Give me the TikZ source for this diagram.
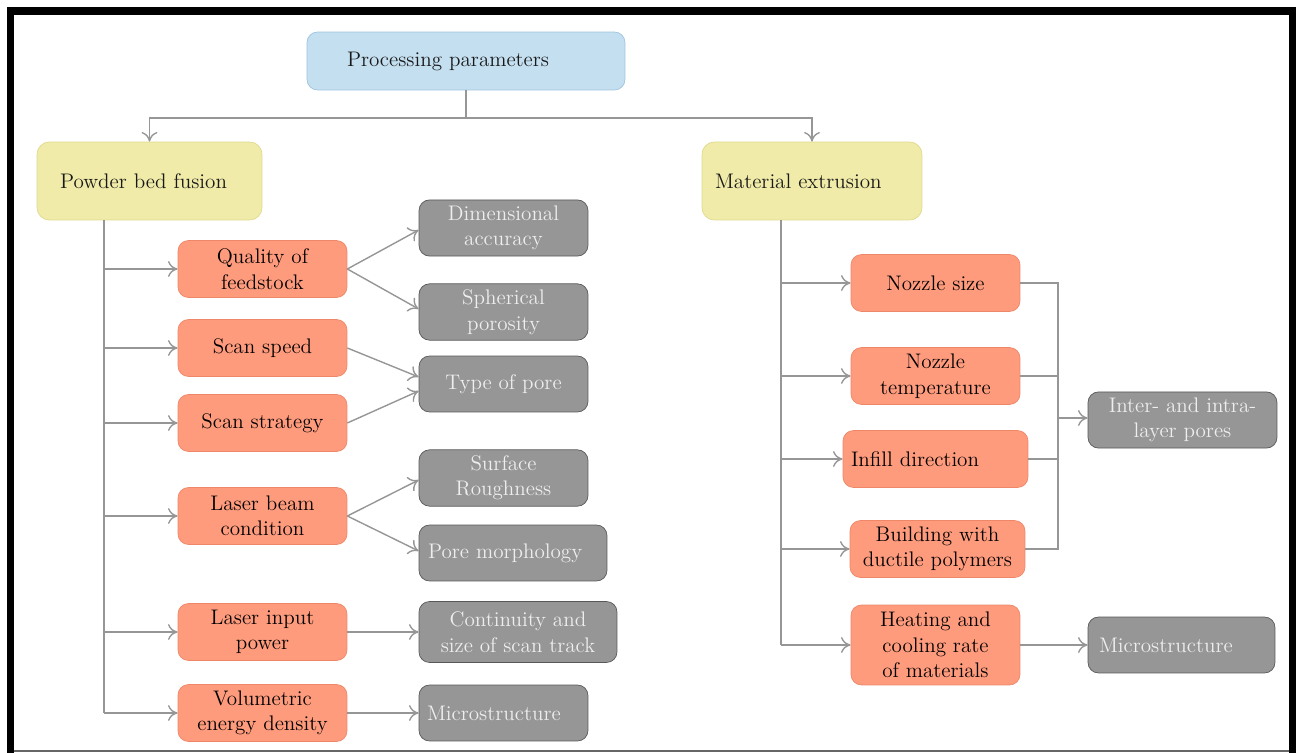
\documentclass[tikz,border=0pt]{standalone}
\usepackage{tikz}
\usetikzlibrary{arrows.meta, positioning, calc}
\definecolor{rootfill}{RGB}{196,223,240}
\definecolor{rootline}{RGB}{158,196,222}
\definecolor{methfill}{RGB}{240,235,168}
\definecolor{methline}{RGB}{224,218,140}
\definecolor{paramfill}{RGB}{255,155,125}
\definecolor{paramline}{RGB}{238,134,104}
\definecolor{efffill}{RGB}{150,150,150}
\definecolor{effline}{RGB}{88,88,88}
\definecolor{efftext}{RGB}{238,238,238}
\definecolor{linkgray}{RGB}{150,150,150}

\begin{document}
\begin{tikzpicture}[
  x=0.02cm, y=-0.02cm,
  font=\fontsize{12}{14.5}\selectfont,
  rootbox/.style={draw=rootline, fill=rootfill, rounded corners=6pt,
                  minimum height=1.16cm, text=black!90, align=left},
  methbox/.style={draw=methline, fill=methfill, rounded corners=7pt,
                  minimum height=1.56cm, text=black!90, align=left},
  parambox/.style={draw=paramline, fill=paramfill, rounded corners=6pt,
                   minimum width=3.38cm, minimum height=1.14cm,
                   inner xsep=2pt, align=center, text=black},
  effectbox/.style={draw=effline, fill=efffill, rounded corners=6pt,
                    minimum width=3.38cm, minimum height=1.12cm,
                    inner xsep=2pt, align=center, text=efftext},
  link/.style={draw=linkgray, line width=0.8pt},
  arrow/.style={link, -{To[length=5.5pt,width=9pt]}},
]
\useasboundingbox (0,0) rectangle (1296,753);

%% Frame
\fill[black] (7,7) rectangle (1296,15);
\fill[black] (7,7) rectangle (14,753);
\fill[black] (1289,7) rectangle (1296,753);
\draw[black!60, line width=0.6pt] (14,751) -- (1289,751);

%% Top levels
\node[rootbox, text width=4.76cm, inner xsep=0.8cm] (root) at (466,61) {Processing parameters};
\node[methbox, text width=3.58cm, inner xsep=0.46cm] (pbf) at (149.5,181) {Powder bed fusion};
\node[methbox, text width=3.88cm, inner xsep=0.26cm] (mex) at (812,181) {Material extrusion};

%% Powder bed fusion parameters
\node[parambox] (quality)  at (262.5,269) {Quality of\\feedstock};
\node[parambox] (speed)    at (262.5,348) {Scan speed};
\node[parambox] (strategy) at (262.5,423) {Scan strategy};
\node[parambox] (beam)     at (262.5,516) {Laser beam\\condition};
\node[parambox] (power)    at (262.5,632) {Laser input\\power};
\node[parambox] (energy)   at (262.5,713) {Volumetric\\energy density};

%% Powder bed fusion effects
\node[effectbox] (dimacc)    at (503.5,228) {Dimensional\\accuracy};
\node[effectbox] (sphpor)    at (503.5,312) {Spherical\\porosity};
\node[effectbox] (poretype)  at (503.5,384) {Type of pore};
\node[effectbox] (rough)     at (503.5,478) {Surface\\Roughness};
\node[effectbox, text width=3.4cm, inner xsep=0.18cm, align=left] (poremorph) at (513,553) {Pore morphology};
\node[effectbox, minimum width=3.96cm, minimum height=1.22cm] (track) at (518,632) {Continuity and\\size of scan track};
\node[effectbox, text width=3.06cm, inner xsep=0.16cm, align=left] (micropbf) at (503.5,713) {Microstructure};

%% Material extrusion parameters
\node[parambox] (nozsize) at (935.5,283) {Nozzle size};
\node[parambox] (noztemp) at (935.5,376) {Nozzle\\temperature};
\node[parambox, text width=3.38cm, inner xsep=0.16cm, align=left] (infill) at (935.5,459) {Infill direction};
\node[parambox, minimum width=3.5cm] (ductile) at (937.5,549) {Building with\\ductile polymers};
\node[parambox, minimum height=1.6cm] (heatcool) at (935.5,645) {Heating and\\cooling rate\\of materials};

%% Material extrusion effects
\node[effectbox, minimum width=3.78cm] (layerpores) at (1182.5,420) {Inter- and intra-\\layer pores};
\node[effectbox, text width=3.3cm, inner xsep=0.22cm, align=left] (micromex) at (1181.5,645) {Microstructure};

%% Split from the root
\coordinate (hub) at (466,118);
\draw[link] (root) -- (hub);
\draw[arrow] (hub) -| (pbf);
\draw[arrow] (hub) -| (mex);

%% Powder bed fusion trunk
\coordinate (pbftrunk) at (104,220);
\draw[link] (pbftrunk) -- (pbftrunk |- energy);
\foreach \p in {quality, speed, strategy, beam, power, energy}
  \draw[arrow] (pbftrunk |- \p) -- (\p);

\draw[arrow] (quality.east) -- ([yshift=-0.04cm]dimacc.west);
\draw[arrow] (quality.east) -- ([yshift=0.06cm]sphpor.west);
\draw[arrow] (speed.east) -- ([yshift=0.14cm]poretype.west);
\draw[arrow] (strategy.east) -- ([yshift=-0.14cm]poretype.west);
\draw[arrow] (beam.east) -- ([yshift=-0.04cm]rough.west);
\draw[arrow] (beam.east) -- ([yshift=0.04cm]poremorph.west);
\draw[arrow] (power) -- (track);
\draw[arrow] (energy) -- (micropbf);

%% Material extrusion trunk
\coordinate (mextrunk) at (781,220);
\draw[link] (mextrunk) -- (mextrunk |- heatcool);
\foreach \p in {nozsize, noztemp, infill, ductile, heatcool}
  \draw[arrow] (mextrunk |- \p) -- (\p);

%% Collector to layer pores
\coordinate (bus) at (1058,283);
\draw[link] (nozsize.east) -- (bus |- nozsize) -- (bus |- ductile) -- (ductile.east);
\draw[link] (noztemp.east) -- (bus |- noztemp);
\draw[link] (infill.east) -- (bus |- infill);
\draw[arrow] ([yshift=0.04cm]bus |- layerpores) -- ([yshift=0.04cm]layerpores.west);
\draw[arrow] (heatcool) -- (micromex);

\end{tikzpicture}
\end{document}
